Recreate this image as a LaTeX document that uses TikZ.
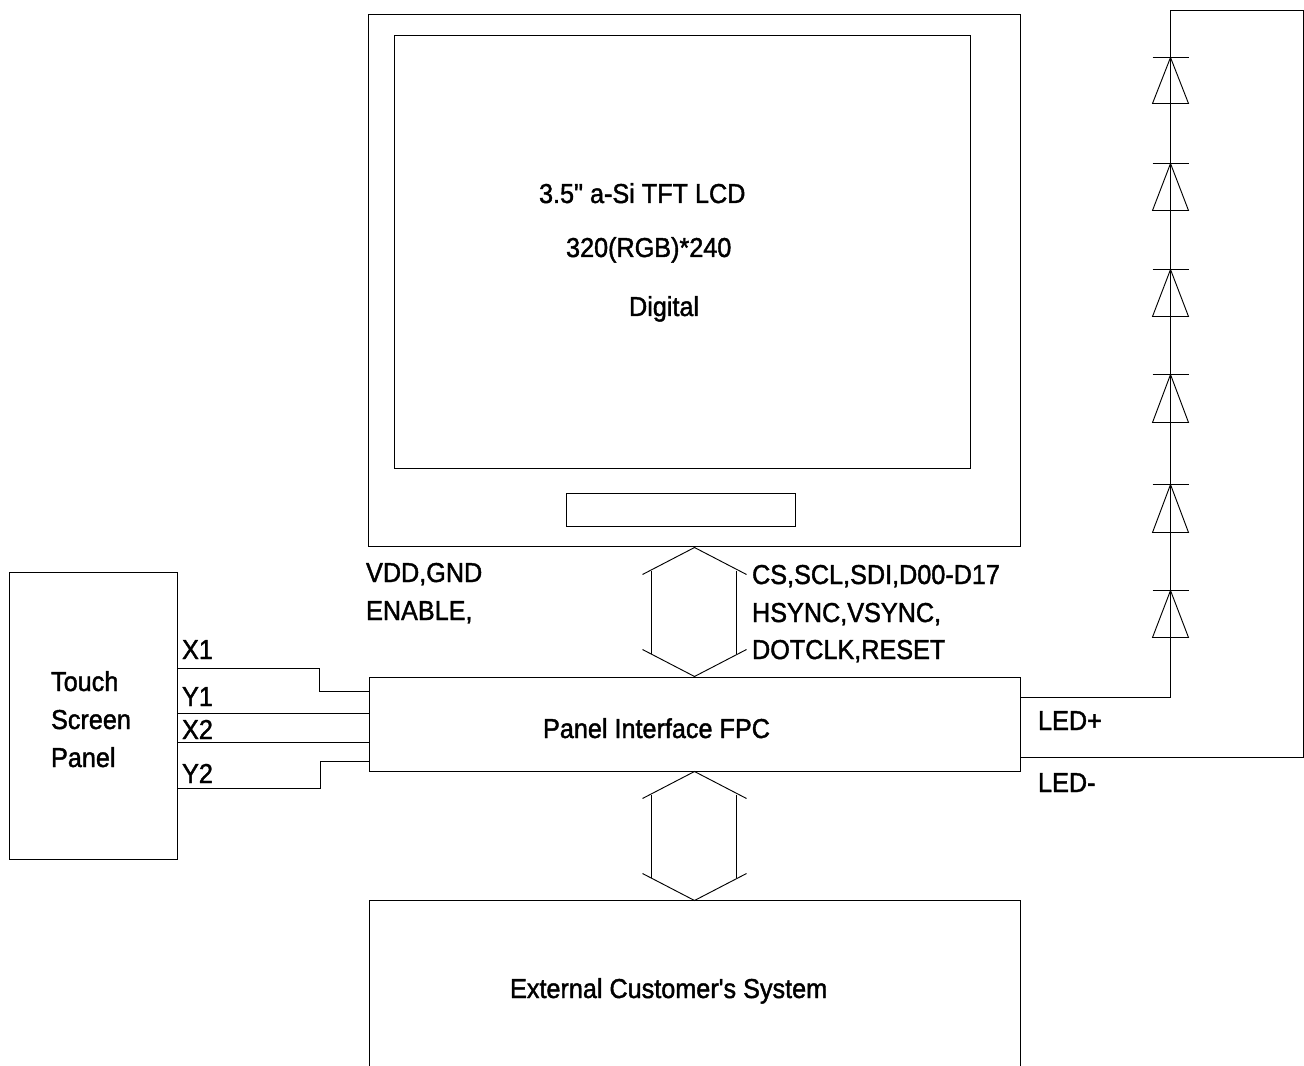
\documentclass[tikz,border=0pt]{standalone}
\usepackage{fontspec}
\newfontfamily\labfont[FakeStretch=0.922,FakeBold=1.5]{Liberation Sans}
\tikzset{
  x=0.75pt,y=-0.75pt,
  ln/.style={draw=black,line width=0.7pt,line join=miter},
  boxn/.style={draw=black,line width=0.7pt,rectangle,inner sep=0pt,outer sep=0pt,anchor=north west},
  lab/.style={inner sep=0pt,outer sep=0pt,anchor=base west,xshift=-0.32pt,yshift=1.125pt,font=\labfont\fontsize{20.5}{24}\selectfont},
}
\newcommand{\boxat}[5]{\node[boxn,minimum width=#4*0.75pt-#2*0.75pt,minimum height=#5*0.75pt-#3*0.75pt] (#1) at (#2,#3) {};}
\newcommand{\diodeat}[3]{%
  \coordinate (#1a) at (1170,#2);\coordinate (#1l) at (1152,#3);\coordinate (#1r) at (1188,#3);
  \coordinate (#1bl) at (1152,#2);\coordinate (#1br) at (1188,#2);
  \draw[ln] (#1bl)--(#1br);
  \draw[ln] (#1a)--(#1l)--(#1r)--cycle;}
\begin{document}
\begin{tikzpicture}
\useasboundingbox (-0.5,-0.5) rectangle (1303.5,1065.5);
\boxat{lcd}{368}{14}{1020}{546}
\boxat{inner}{394}{35}{970}{468}
\boxat{slot}{566}{493}{795}{526}
\boxat{touch}{9}{572}{177}{859}
\boxat{fpc}{369}{677}{1020}{771}
% external system box, open at the page foot
\coordinate (extbl) at (369,1066);\coordinate (exttl) at (369,900);
\coordinate (exttr) at (1020,900);\coordinate (extbr) at (1020,1066);
\draw[ln] (extbl)--(exttl)--(exttr)--(extbr);
% upper double arrow
\coordinate (ua) at (694,547);\coordinate (ub) at (694,676);
\coordinate (ual) at (642,574);\coordinate (uar) at (746,574);
\coordinate (ubl) at (642,649);\coordinate (ubr) at (746,649);
\coordinate (uvtl) at (651,570);\coordinate (uvbl) at (651,653);
\coordinate (uvtr) at (736,570);\coordinate (uvbr) at (736,653);
\draw[ln] (ual)--(ua)--(uar);\draw[ln] (ubl)--(ub)--(ubr);
\draw[ln] (uvtl)--(uvbl);\draw[ln] (uvtr)--(uvbr);
% lower double arrow
\coordinate (la) at (694,771);\coordinate (lb) at (694,900);
\coordinate (lal) at (642,798);\coordinate (lar) at (746,798);
\coordinate (lbl) at (642,873);\coordinate (lbr) at (746,873);
\coordinate (lvtl) at (651,794);\coordinate (lvbl) at (651,877);
\coordinate (lvtr) at (736,794);\coordinate (lvbr) at (736,877);
\draw[ln] (lal)--(la)--(lar);\draw[ln] (lbl)--(lb)--(lbr);
\draw[ln] (lvtl)--(lvbl);\draw[ln] (lvtr)--(lvbr);
% touch wires
\coordinate (x1a) at (177,668);\coordinate (x1b) at (319,668);\coordinate (x1c) at (319,691);\coordinate (x1d) at (369,691);
\draw[ln] (x1a)--(x1b)--(x1c)--(x1d);
\coordinate (y1a) at (177,713);\coordinate (y1b) at (369,713);\draw[ln] (y1a)--(y1b);
\coordinate (x2a) at (177,742);\coordinate (x2b) at (369,742);\draw[ln] (x2a)--(x2b);
\coordinate (y2a) at (177,788);\coordinate (y2b) at (320,788);\coordinate (y2c) at (320,761);\coordinate (y2d) at (369,761);
\draw[ln] (y2a)--(y2b)--(y2c)--(y2d);
% LED string
\coordinate (lpa) at (1020,697);\coordinate (lpb) at (1170,697);\coordinate (ltop) at (1170,10);
\coordinate (ltr) at (1303,10);\coordinate (lbrc) at (1303,757);\coordinate (lma) at (1020,757);
\draw[ln] (lpa)--(lpb)--(ltop)--(ltr)--(lbrc)--(lma);
\diodeat{da}{57}{103}
\diodeat{db}{163}{210}
\diodeat{dc}{269}{316}
\diodeat{dd}{374}{422}
\diodeat{de}{484}{532}
\diodeat{df}{590}{637}
% labels
\node[lab] (t1) at (539,204) {3.5" a-Si TFT LCD};
\node[lab] (t2) at (566,258) {320(RGB)*240};
\node[lab] (t3) at (629,317) {Digital};
\node[lab] (t4) at (366,583) {VDD,GND};
\node[lab] (t5) at (366,621) {ENABLE,};
\node[lab] (t6) at (752,585) {CS,SCL,SDI,D00-D17};
\node[lab] (t7) at (752,623) {HSYNC,VSYNC,};
\node[lab] (t8) at (752,660) {DOTCLK,RESET};
\node[lab] (t9) at (51,692) {Touch};
\node[lab] (t10) at (51,730) {Screen};
\node[lab] (t11) at (51,768) {Panel};
\node[lab] (t12) at (182,660) {X1};
\node[lab] (t13) at (182,707) {Y1};
\node[lab] (t14) at (182,740) {X2};
\node[lab] (t15) at (182,784) {Y2};
\node[lab] (t16) at (543,739) {Panel Interface FPC};
\node[lab] (t17) at (1038,731) {LED+};
\node[lab] (t18) at (1038,793) {LED-};
\node[lab] (t19) at (510,999) {External Customer's System};
\end{tikzpicture}
\end{document}
